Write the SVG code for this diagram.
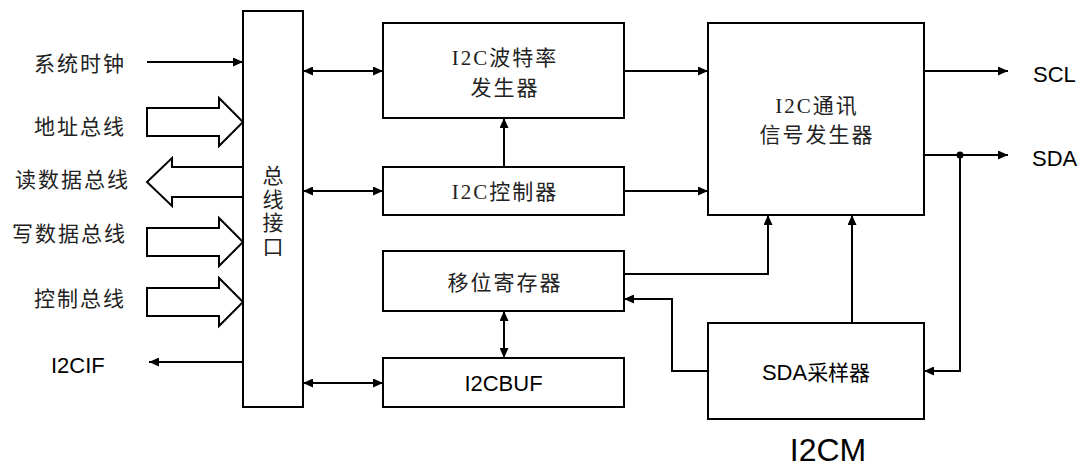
<svg xmlns="http://www.w3.org/2000/svg" width="1083" height="468" viewBox="0 0 1083 468">
<style>
.box{fill:#fff;stroke:#000;stroke-width:2}
.ln{fill:none;stroke:#000;stroke-width:2}
.big{fill:#fff;stroke:#000;stroke-width:2;stroke-linejoin:miter}
.cn{font-family:"Liberation Serif","Noto Sans CJK SC",serif;font-size:21px;letter-spacing:2px;fill:#222}
.en{font-family:"Liberation Sans",Arial,sans-serif;font-size:22px;fill:#000}
</style>
<defs>
<marker id="ah" markerUnits="userSpaceOnUse" markerWidth="10" markerHeight="9" refX="10" refY="4.5" orient="auto-start-reverse">
<path d="M0,0 L10,4.5 L0,9 z" fill="#000"/>
</marker>
</defs>
<rect width="1083" height="468" fill="#fff"/>

<g id="inputs">
<text class="cn" x="126" y="71" text-anchor="end">系统时钟</text>
<text class="cn" x="126" y="133.5" text-anchor="end">地址总线</text>
<text class="cn" x="130" y="186.5" text-anchor="end">读数据总线</text>
<text class="cn" x="127" y="241" text-anchor="end">写数据总线</text>
<text class="cn" x="126" y="305.5" text-anchor="end">控制总线</text>
<text class="en" x="51" y="373">I2CIF</text>
<polygon class="big" points="147,108 219,108 219,98 243,122 219,146 219,136 147,136"/>
<polygon class="big" points="243,167 172,167 172,158 147,182 172,206 172,197 243,197"/>
<polygon class="big" points="147,228 219,228 219,218 243,242 219,266 219,256 147,256"/>
<polygon class="big" points="147,288 219,288 219,278 243,302 219,326 219,316 147,316"/>
</g>

<g id="bus-interface">
<rect class="box" x="243" y="11" width="60" height="396"/>
<text class="cn" x="273" y="183" text-anchor="middle" style="letter-spacing:0">总</text>
<text class="cn" x="273" y="206.5" text-anchor="middle" style="letter-spacing:0">线</text>
<text class="cn" x="273" y="230" text-anchor="middle" style="letter-spacing:0">接</text>
<text class="cn" x="273" y="253.5" text-anchor="middle" style="letter-spacing:0">口</text>
</g>

<g id="baud-gen">
<rect class="box" x="383" y="23" width="241" height="95"/>
<text class="cn" x="505" y="64.5" text-anchor="middle">I2C波特率</text>
<text class="cn" x="505" y="94.5" text-anchor="middle">发生器</text>
</g>

<g id="i2c-ctrl">
<rect class="box" x="383" y="167" width="241" height="48"/>
<text class="cn" x="505" y="198.5" text-anchor="middle">I2C控制器</text>
</g>

<g id="shift-reg">
<rect class="box" x="383" y="251" width="241" height="60"/>
<text class="cn" x="505" y="289.5" text-anchor="middle">移位寄存器</text>
</g>

<g id="i2cbuf">
<rect class="box" x="383" y="358" width="241" height="49"/>
<text class="en" x="503.5" y="391" text-anchor="middle">I2CBUF</text>
</g>

<g id="comm-gen">
<rect class="box" x="708" y="23" width="216" height="192"/>
<text class="cn" x="817" y="112.5" text-anchor="middle">I2C通讯</text>
<text class="cn" x="817" y="141.5" text-anchor="middle">信号发生器</text>
</g>

<g id="sda-sampler">
<rect class="box" x="708" y="323" width="216" height="96"/>
<text class="en" x="816" y="379.5" text-anchor="middle"><tspan>SDA</tspan><tspan style="font-family:'Noto Sans CJK SC',sans-serif;font-size:21px">采样器</tspan></text>
</g>

<g id="outputs">
<text class="en" x="1033" y="82">SCL</text>
<text class="en" x="1032" y="166">SDA</text>
<text class="en" x="828" y="461" text-anchor="middle" style="font-size:32px">I2CM</text>
</g>

<g id="connectors">
<line class="ln" x1="147" y1="62" x2="243" y2="62" marker-end="url(#ah)"/>
<line class="ln" x1="243" y1="362" x2="149" y2="362" marker-end="url(#ah)"/>
<line class="ln" x1="303" y1="71" x2="383" y2="71" marker-start="url(#ah)" marker-end="url(#ah)"/>
<line class="ln" x1="303" y1="191" x2="383" y2="191" marker-start="url(#ah)" marker-end="url(#ah)"/>
<line class="ln" x1="303" y1="383" x2="383" y2="383" marker-start="url(#ah)" marker-end="url(#ah)"/>
<line class="ln" x1="504" y1="167" x2="504" y2="118" marker-end="url(#ah)"/>
<line class="ln" x1="504" y1="311" x2="504" y2="358" marker-start="url(#ah)" marker-end="url(#ah)"/>
<line class="ln" x1="624" y1="71" x2="708" y2="71" marker-end="url(#ah)"/>
<line class="ln" x1="624" y1="191" x2="708" y2="191" marker-end="url(#ah)"/>
<polyline class="ln" points="624,274 768,274 768,215" marker-end="url(#ah)"/>
<line class="ln" x1="852" y1="323" x2="852" y2="215" marker-end="url(#ah)"/>
<polyline class="ln" points="708,371 672,371 672,299 624,299" marker-end="url(#ah)"/>
<line class="ln" x1="924" y1="71" x2="1008" y2="71" marker-end="url(#ah)"/>
<line class="ln" x1="924" y1="155" x2="1008" y2="155" marker-end="url(#ah)"/>
<polyline class="ln" points="960,155 960,371 924,371" marker-end="url(#ah)"/>
<circle cx="960" cy="155" r="3.5" fill="#000"/>
</g>
</svg>
